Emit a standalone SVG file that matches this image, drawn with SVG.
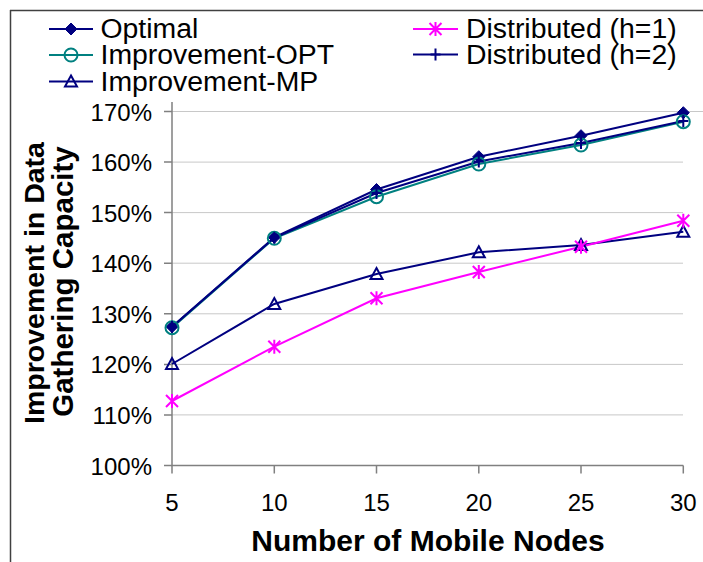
<svg xmlns="http://www.w3.org/2000/svg" xmlns:xlink="http://www.w3.org/1999/xlink" width="703" height="562" viewBox="0 0 703 562">
<style>
text{font-family:"Liberation Sans",Arial,sans-serif;fill:#000}
.ytick{font-size:24px;text-anchor:end}
.xtick{font-size:24px;text-anchor:middle}
.leg{font-size:28.4px}
.title{font-size:30px;font-weight:bold;text-anchor:middle}
.grid{stroke:#c8c8c8;stroke-width:1;fill:none}
.axis{stroke:#808080;stroke-width:1.5;fill:none}
.s-opt{stroke:#000080;stroke-width:2;fill:none}
.s-iopt{stroke:#008080;stroke-width:2;fill:none}
.s-imp{stroke:#000080;stroke-width:2;fill:none}
.s-d1{stroke:#FF00FF;stroke-width:2;fill:none}
.s-d2{stroke:#000080;stroke-width:2;fill:none}
</style>
<defs>
<path id="m-dia" d="M0,-6 L6,0 L0,6 L-6,0 Z" fill="#000080" stroke="#000080" stroke-width="1"/>
<circle id="m-cir" r="6.5" fill="none" stroke="#008080" stroke-width="2"/>
<path id="m-tri" d="M0,-6 L6,5 L-6,5 Z" fill="none" stroke="#000080" stroke-width="2" stroke-linejoin="miter"/>
<path id="m-ast" d="M-6,-6 L6,6 M-6,6 L6,-6 M0,-7 L0,7" fill="none" stroke="#FF00FF" stroke-width="2"/>
<path id="m-plus" d="M-5,0 L5,0 M0,-6 L0,6" fill="none" stroke="#000080" stroke-width="2"/>
</defs>

<g id="frame">
<path d="M10,10.5 H703 M10.5,10 V562" stroke="#404040" stroke-width="1.5" fill="none"/>
</g>

<g id="gridlines">
<path class="grid" d="M172,111.5 H703 M172,162.1 H683 M172,212.6 H683 M172,263.2 H683 M172,313.8 H683 M172,364.4 H683 M172,414.9 H683"/>
</g>

<g id="axes">
<path class="axis" d="M172,102 V465.5 H683.3"/>
<path class="axis" d="M164,111.5 H172 M164,162.1 H172 M164,212.6 H172 M164,263.2 H172 M164,313.8 H172 M164,364.4 H172 M164,414.9 H172 M164,465.5 H172"/>
<path class="axis" d="M172,465.5 V473.5 M274.3,465.5 V473.5 M376.5,465.5 V473.5 M478.8,465.5 V473.5 M581,465.5 V473.5 M683.3,465.5 V473.5"/>
</g>

<g id="y-labels">
<text class="ytick" x="152" y="120.5">170%</text>
<text class="ytick" x="152" y="171.1">160%</text>
<text class="ytick" x="152" y="221.6">150%</text>
<text class="ytick" x="152" y="272.2">140%</text>
<text class="ytick" x="152" y="322.8">130%</text>
<text class="ytick" x="152" y="373.4">120%</text>
<text class="ytick" x="152" y="423.9">110%</text>
<text class="ytick" x="152" y="474.5">100%</text>
</g>

<g id="x-labels">
<text class="xtick" x="172" y="511">5</text>
<text class="xtick" x="274.3" y="511">10</text>
<text class="xtick" x="376.5" y="511">15</text>
<text class="xtick" x="478.8" y="511">20</text>
<text class="xtick" x="581" y="511">25</text>
<text class="xtick" x="683.3" y="511">30</text>
</g>

<g id="x-title"><text class="title" x="428" y="551">Number of Mobile Nodes</text></g>
<g id="y-title">
<text class="title" style="font-size:28.5px" transform="translate(43.5,283) rotate(-90)">Improvement in Data</text>
<text class="title" style="font-size:29.5px" transform="translate(73,281.5) rotate(-90)">Gathering Capacity</text>
</g>

<g id="connectors">
<polyline id="line-optimal" class="s-opt" points="172,326.7 274.3,237.3 376.5,189.5 478.8,156.7 581,135.7 683.3,112.7"/>
<polyline id="line-impopt" class="s-iopt" points="172,327.7 274.3,238.3 376.5,196.7 478.8,164 581,145 683.3,121.7"/>
<polyline id="line-impmp" class="s-imp" points="172,364 274.3,304 376.5,274 478.8,252.3 581,245 683.3,231.7"/>
<polyline id="line-d1" class="s-d1" points="172,401 274.3,346.7 376.5,298.3 478.8,272 581,246.7 683.3,220.7"/>
<polyline id="line-d2" class="s-d2" points="172,327 274.3,237.8 376.5,193 478.8,161.5 581,143 683.3,121"/>
</g>

<g id="series-optimal">
<use xlink:href="#m-dia" x="172" y="326.7"/><use xlink:href="#m-dia" x="274.3" y="237.3"/><use xlink:href="#m-dia" x="376.5" y="189.5"/><use xlink:href="#m-dia" x="478.8" y="156.7"/><use xlink:href="#m-dia" x="581" y="135.7"/><use xlink:href="#m-dia" x="683.3" y="112.7"/>
</g>
<g id="series-impopt">
<use xlink:href="#m-cir" x="172" y="327.7"/><use xlink:href="#m-cir" x="274.3" y="238.3"/><use xlink:href="#m-cir" x="376.5" y="196.7"/><use xlink:href="#m-cir" x="478.8" y="164"/><use xlink:href="#m-cir" x="581" y="145"/><use xlink:href="#m-cir" x="683.3" y="121.7"/>
</g>
<g id="series-impmp">
<use xlink:href="#m-tri" x="172" y="364"/><use xlink:href="#m-tri" x="274.3" y="304"/><use xlink:href="#m-tri" x="376.5" y="274"/><use xlink:href="#m-tri" x="478.8" y="252.3"/><use xlink:href="#m-tri" x="581" y="245"/><use xlink:href="#m-tri" x="683.3" y="231.7"/>
</g>
<g id="series-d1">
<use xlink:href="#m-ast" x="172" y="401"/><use xlink:href="#m-ast" x="274.3" y="346.7"/><use xlink:href="#m-ast" x="376.5" y="298.3"/><use xlink:href="#m-ast" x="478.8" y="272"/><use xlink:href="#m-ast" x="581" y="246.7"/><use xlink:href="#m-ast" x="683.3" y="220.7"/>
</g>
<g id="series-d2">
<use xlink:href="#m-plus" x="172" y="327"/><use xlink:href="#m-plus" x="274.3" y="237.8"/><use xlink:href="#m-plus" x="376.5" y="193"/><use xlink:href="#m-plus" x="478.8" y="161.5"/><use xlink:href="#m-plus" x="581" y="143"/><use xlink:href="#m-plus" x="683.3" y="121"/>
</g>

<g id="legend">
<g id="legend-optimal"><path class="s-opt" d="M49,29 H93"/><use xlink:href="#m-dia" x="71" y="29"/><text class="leg" x="100.5" y="38">Optimal</text></g>
<g id="legend-impopt"><path class="s-iopt" d="M49,55 H93"/><use xlink:href="#m-cir" x="71" y="55"/><text class="leg" x="100.5" y="64">Improvement-OPT</text></g>
<g id="legend-impmp"><path class="s-imp" d="M49,81.5 H93"/><use xlink:href="#m-tri" x="71" y="81.5"/><text class="leg" x="100.5" y="90.5">Improvement-MP</text></g>
<g id="legend-d1"><path class="s-d1" d="M413,29 H458"/><use xlink:href="#m-ast" x="435.5" y="29"/><text class="leg" x="466" y="38">Distributed (h=1)</text></g>
<g id="legend-d2"><path class="s-d2" d="M413,54.5 H458"/><use xlink:href="#m-plus" x="435.5" y="54.5"/><text class="leg" x="466" y="63.5">Distributed (h=2)</text></g>
</g>
</svg>
